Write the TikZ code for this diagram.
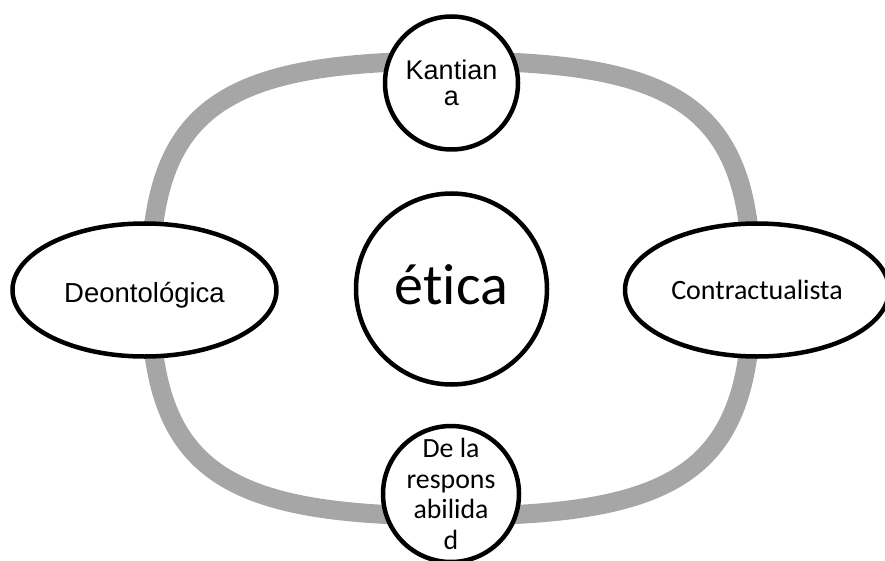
\documentclass[tikz,border=0pt]{standalone}
\usepackage{fontspec}
\setmainfont[Ligatures=NoCommon]{Carlito}
\newfontfamily\arialfont{Liberation Sans}
\usetikzlibrary{shapes.geometric}
\definecolor{ringgray}{RGB}{166,166,166}
\begin{document}
\begin{tikzpicture}[x=1pt, y=-1pt,
    ring/.style={draw=ringgray, line width=19pt},
    bubble/.style={circle, draw=black, line width=4.5pt, fill=white, align=center},
    oval/.style={ellipse, draw=black, line width=4.5pt, fill=white, inner sep=0pt,
      minimum width=264pt, minimum height=133pt}]
  \useasboundingbox (0,0) rectangle (885,561);

  % anillo gris del ciclo
  \coordinate (ringW) at (150,288.5);
  \coordinate (ringN) at (451,61);
  \coordinate (ringE) at (752,288.5);
  \coordinate (ringS) at (451,516);
  \draw[ring] (ringW) .. controls (150,110) and (216,61) .. (ringN)
    .. controls (686,61) and (752,110) .. (ringE)
    .. controls (752,467) and (686,516) .. (ringS)
    .. controls (216,516) and (150,467) .. (ringW) -- cycle;

  % centro
  \node[bubble, inner sep=0pt, minimum size=191pt,
        text height=40pt, text depth=10pt,
        font=\fontsize{58}{60}\selectfont] (etica) at (451.5,289) {ética};

  % arriba y abajo
  \node[bubble, inner sep=0pt, minimum size=133pt,
        font=\arialfont\fontsize{27}{26}\selectfont] (kant) at (451.5,83) {Kantian\\a};
  \node[bubble, inner sep=-4pt, minimum size=136pt,
        font=\fontsize{27.8}{30.5}\selectfont] (resp) at (451,494) {De la\\respons\\abilida\\d};

  % izquierda y derecha
  \node[oval, text height=24pt, text depth=0pt,
        font=\arialfont\fontsize{27.5}{30}\selectfont] (deon) at (144.5,290) {Deontológica};
  \node[oval, font=\fontsize{28}{30}\selectfont] (contr) at (757,290) {Contractualista};
\end{tikzpicture}
\end{document}
